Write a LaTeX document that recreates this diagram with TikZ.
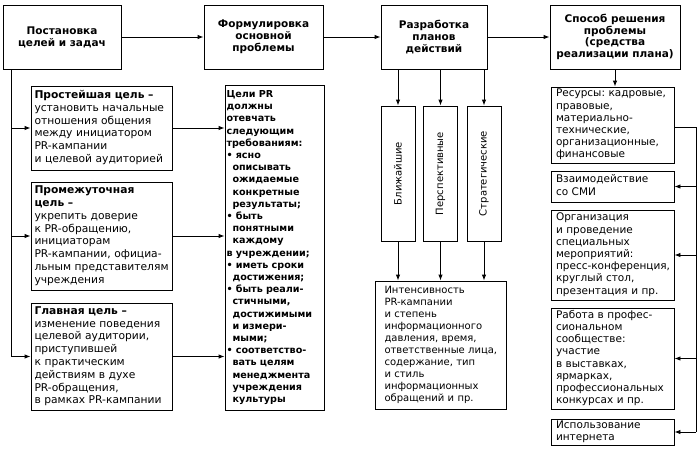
\documentclass[tikz,border=0pt]{standalone}
\usepackage{fontspec}
\setmainfont{DejaVu Sans}
\usetikzlibrary{arrows.meta}

\newcommand{\ind}{\hspace*{6pt}}
\newcommand{\rows}[1]{\begin{tabular}{@{}l@{}}#1\end{tabular}}
\frenchspacing

\begin{document}
\begin{tikzpicture}[x=1pt,y=-1pt,line width=0.9pt,>={Latex[length=6pt,width=4.5pt]},
    box/.style={draw,inner sep=0pt,font=\fontsize{10.5}{12.2}\selectfont},
    head/.style={box,align=center,font=\bfseries\fontsize{10.5}{11.8}\selectfont},
    txt/.style={box,align=left,text width=#1},
    goal/.style={txt=134pt,minimum width=141pt,font=\fontsize{10.7}{12.8}\selectfont},
    vert/.style={box,rotate=90,minimum width=135pt,minimum height=34pt,font=\fontsize{10}{12}\selectfont}]
    \useasboundingbox (0,0) rectangle (700,451);
        \node at (62,37) [head,minimum width=118pt,minimum height=64pt] (goals) {Постановка\\целей и задач};
        \node at (263.5,37) [head,minimum width=119pt,minimum height=64pt] (problem) {Формулировка\\основной\\проблемы};
        \node at (434,37) [head,minimum width=106pt,minimum height=64pt] (plans) {Разработка\\планов\\действий};
        \node at (615,37) [head,minimum width=130pt,minimum height=64pt] (means) {Способ решения\\проблемы\\(средства\\реализации плана)};
        \node at (101.5,128) [goal,minimum height=84pt] (simple) {\rows{\textbf{Простейшая цель –}\\установить начальные\\отношения общения\\между инициатором\\PR-кампании\\и целевой аудиторией}};
        \node at (101.5,236) [goal,minimum height=108pt] (middle) {\rows{\textbf{Промежуточная}\\\textbf{цель –}\\укрепить доверие\\к PR-обращению,\\инициаторам\\PR-кампании, официа-\\льным представителям\\учреждения}};
        \node at (101.5,356.5) [goal,minimum height=107pt] (main) {\rows{\textbf{Главная цель –}\\изменение поведения\\целевой аудитории,\\приступившей\\к практическим\\действиям в духе\\PR-обращения,\\в рамках PR-кампании}};
        \node at (274.5,247.5) [txt=96pt,minimum width=99pt,minimum height=325pt,font=\bfseries\fontsize{9.6}{12.2}\selectfont] (req) {\rows{Цели PR\\должны\\отевчать\\следующим\\требованиям:\\\textbullet\ ясно\\\ind описывать\\\ind ожидаемые\\\ind конкретные\\\ind результаты;\\\textbullet\ быть\\\ind понятными\\\ind каждому\\в учреждении;\\\textbullet\ иметь сроки\\\ind достижения;\\\textbullet\ быть реали-\\\ind стичными,\\\ind достижимыми\\\ind и измери-\\\ind мыми;\\\textbullet\ соответство-\\\ind вать целям\\\ind менеджмента\\\ind учреждения\\\ind культуры}};
        \node at (398,173.5) [vert] (near) {Ближайшие};
        \node at (440.5,173.5) [vert] (persp) {Перспективные};
        \node at (484,173.5) [vert] (strat) {Стратегические};
        \node at (440.5,345) [txt=112pt,minimum width=131pt,minimum height=128pt,font=\fontsize{10}{12}\selectfont] (inten) {\rows{Интенсивность\\PR-кампании\\и степень\\информационного\\давления, время,\\ответственные лица,\\содержание, тип\\и стиль\\информационных\\обращений и пр.}};
        \node at (612.5,125) [txt=113pt,minimum width=123pt,minimum height=76pt] (res) {\rows{Ресурсы: кадровые,\\правовые,\\материально-\\технические,\\организационные,\\финансовые}};
        \node at (612.5,186.5) [txt=113pt,minimum width=123pt,minimum height=31pt] (smi) {\rows{Взаимодействие\\со СМИ}};
        \node at (612.5,255) [txt=113pt,minimum width=123pt,minimum height=90pt] (org) {\rows{Организация\\и проведение\\специальных\\мероприятий:\\пресс-конференция,\\круглый стол,\\презентация и пр.}};
        \node at (612.5,358.5) [txt=113pt,minimum width=123pt,minimum height=101pt] (prof) {\rows{Работа в профес-\\сиональном\\сообществе:\\участие\\в выставках,\\ярмарках,\\профессиональных\\конкурсах и пр.}};
        \node at (612.5,432) [txt=113pt,minimum width=123pt,minimum height=26pt] (inet) {\rows{Использование\\интернета}};
        \coordinate (bus) at (696,127);
        \draw[->] (goals) -- (problem);
        \draw[->] (problem) -- (plans);
        \draw[->] (plans) -- (means);
        \draw[->] ([xshift=9pt]goals.south west) |- (simple);
        \draw[->] ([xshift=9pt]goals.south west) |- (middle);
        \draw[->] ([xshift=9pt]goals.south west) |- (main);
        \draw[->] (simple) -- (simple -| req.west);
        \draw[->] (middle) -- (middle -| req.west);
        \draw[->] (main) -- (main -| req.west);
        \draw[->] (plans.south -| near) -- (near);
        \draw[->] (plans.south -| persp) -- (persp);
        \draw[->] (plans.south -| strat) -- (strat);
        \draw[->] (near) -- (near |- inten.north);
        \draw[->] (persp) -- (persp |- inten.north);
        \draw[->] (strat) -- (strat |- inten.north);
        \draw[->] (means) -- (means |- res.north);
        \draw (res.east |- bus) -- (bus) -- (bus |- inet);
        \draw[->] (bus |- smi) -- (smi);
        \draw[->] (bus |- org) -- (org);
        \draw[->] (bus |- prof) -- (prof);
        \draw[->] (bus |- inet) -- (inet);
    \end{tikzpicture}
\end{document}
